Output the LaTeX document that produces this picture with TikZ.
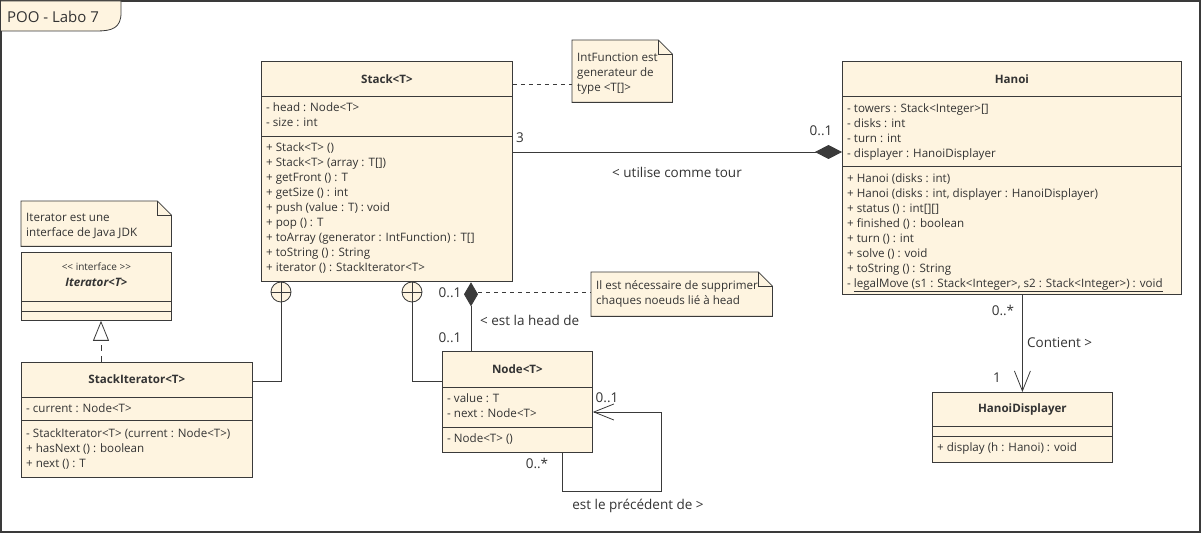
\documentclass[tikz,border=0pt]{standalone}
\usepackage{fontspec}
\setmainfont{Open Sans}
\usetikzlibrary{arrows.meta}
\definecolor{umlfill}{HTML}{FEF4E0}
\definecolor{umlline}{HTML}{3A3A3A}
\definecolor{umltext}{HTML}{333333}

\begin{document}
\begin{tikzpicture}[
    x=1pt, y=-1pt,
    font=\fontsize{11.6}{15}\selectfont,
    classbox/.style={draw=umlline, fill=umlfill, line width=0.8pt, anchor=north west, inner sep=0pt},
    sep/.style={draw=umlline, line width=0.8pt},
    title/.style={text=umltext, font=\fontsize{11.6}{15}\selectfont\bfseries, inner sep=0pt},
    members/.style={text=umltext, align=left, inner sep=0pt, anchor=north west},
    notebox/.style={anchor=north west, inner sep=0pt},
    notedraw/.style={draw=umlline, fill=umlfill, line width=0.8pt},
    assoc/.style={draw=umlline, line width=0.8pt},
    notelink/.style={draw=umlline, line width=0.8pt, dash pattern=on 4pt off 4pt},
    realize/.style={draw=umlline, line width=0.8pt, dash pattern=on 6pt off 5pt},
    nest/.style={circle, draw=umlline, fill=umlfill, line width=0.8pt, minimum size=20pt, inner sep=0pt,
        path picture={\draw[umlline, line width=0.8pt] (path picture bounding box.north) -- (path picture bounding box.south)
            (path picture bounding box.west) -- (path picture bounding box.east);}},
    lbl/.style={text=umltext, inner sep=0pt, font=\fontsize{13.5}{15}\selectfont}
]
\useasboundingbox (0,0) rectangle (1202,534);

% --- Frame ---
\draw[umlline, line width=1.2pt] (1,1) rectangle (1200,532);
\draw[umlline, fill=umlfill, line width=0.8pt] (1,1) -- (121,1) -- (121,13)
    .. controls (121,28) and (112,31) .. (97,31) -- (1,31);
\node[lbl, font=\fontsize{15}{17}\selectfont] (frametitle) at (53,17) {POO - Labo 7};

% --- Stack<T> ---
\node[classbox, minimum width=251pt, minimum height=220pt] (stack) at (261,61.5) {};
\draw[sep] ([yshift=-35pt]stack.north west) -- ([yshift=-35pt]stack.north east);
\draw[sep] ([yshift=-74.5pt]stack.north west) -- ([yshift=-74.5pt]stack.north east);
\node[title] (stacktitle) at ([yshift=-17.5pt]stack.north) {Stack<T>};
\node[members] (stackattr) at ([xshift=5pt, yshift=-41pt]stack.north west) {- head : Node<T>\\- size : int};
\node[members] (stackops) at ([xshift=5pt, yshift=-81pt]stack.north west)
    {+ Stack<T> ()\\+ Stack<T> (array : T[])\\+ getFront () : T\\+ getSize () : int\\
     + push (value : T) : void\\+ pop () : T\\+ toArray (generator : IntFunction) : T[]\\
     + toString () : String\\+ iterator () : StackIterator<T>};

% --- Note IntFunction ---
\node[notebox, minimum width=100pt, minimum height=62pt] (noteint) at (572,40) {};
\draw[notedraw] (noteint.north west) -- ([xshift=-14pt]noteint.north east) -- ([yshift=-14pt]noteint.north east)
    -- (noteint.south east) -- (noteint.south west) -- cycle;
\draw[sep] ([xshift=-14pt]noteint.north east) |- ([yshift=-14pt]noteint.north east);
\node[members] (noteinttext) at ([xshift=5pt, yshift=-12.5pt]noteint.north west) {IntFunction est\\generateur de\\type <T[]>};
\coordinate (stacknote) at (stack.east |- 0,84);
\draw[notelink] (stacknote) -- (noteint.west |- stacknote);

% --- Hanoi ---
\node[classbox, minimum width=339pt, minimum height=232.5pt] (hanoi) at (842,61.5) {};
\draw[sep] ([yshift=-35pt]hanoi.north west) -- ([yshift=-35pt]hanoi.north east);
\draw[sep] ([yshift=-104.5pt]hanoi.north west) -- ([yshift=-104.5pt]hanoi.north east);
\node[title] (hanoititle) at ([yshift=-17.5pt]hanoi.north) {Hanoi};
\node[members] (hanoiattr) at ([xshift=5pt, yshift=-42pt]hanoi.north west)
    {- towers : Stack<Integer>[]\\- disks : int\\- turn : int\\- displayer : HanoiDisplayer};
\node[members] (hanoiops) at ([xshift=5pt, yshift=-112pt]hanoi.north west)
    {+ Hanoi (disks : int)\\+ Hanoi (disks : int, displayer : HanoiDisplayer)\\+ status () : int[][]\\
     + finished () : boolean\\+ turn () : int\\+ solve () : void\\+ toString () : String\\
     - \underline{legalMove (s1 : Stack<Integer>, s2 : Stack<Integer>) : void}};

% --- HanoiDisplayer ---
\node[classbox, minimum width=180pt, minimum height=70pt] (displayer) at (932,392) {};
\draw[sep] ([yshift=-34pt]displayer.north west) -- ([yshift=-34pt]displayer.north east);
\draw[sep] ([yshift=-44pt]displayer.north west) -- ([yshift=-44pt]displayer.north east);
\node[title] (displayertitle) at ([yshift=-17pt]displayer.north) {HanoiDisplayer};
\node[members] (displayerops) at ([xshift=5pt, yshift=-50.5pt]displayer.north west) {+ display (h : Hanoi) : void};

% --- Note Iterator ---
\node[notebox, minimum width=150pt, minimum height=45pt] (noteitr) at (21,201) {};
\draw[notedraw] (noteitr.north west) -- ([xshift=-14pt]noteitr.north east) -- ([yshift=-14pt]noteitr.north east)
    -- (noteitr.south east) -- (noteitr.south west) -- cycle;
\draw[sep] ([xshift=-14pt]noteitr.north east) |- ([yshift=-14pt]noteitr.north east);
\node[members] (noteitrtext) at ([xshift=5pt, yshift=-12.5pt]noteitr.north west) {Iterator est une\\interface de Java JDK};

% --- Iterator<T> ---
\node[classbox, minimum width=150pt, minimum height=68pt] (iterator) at (21,252) {};
\draw[sep] ([yshift=-49pt]iterator.north west) -- ([yshift=-49pt]iterator.north east);
\draw[sep] ([yshift=-59pt]iterator.north west) -- ([yshift=-59pt]iterator.north east);
\node[text=umltext, inner sep=0pt, font=\fontsize{10}{12}\selectfont] (iteratorstereo) at ([yshift=-15pt]iterator.north) {<\kern0pt< interface >\kern0pt>};
\node[title, font=\fontsize{11.6}{15}\selectfont\bfseries\itshape] (iteratortitle) at ([yshift=-30pt]iterator.north) {Iterator<T>};

% --- StackIterator<T> ---
\node[classbox, minimum width=231pt, minimum height=115pt] (stackitr) at (21,362) {};
\draw[sep] ([yshift=-35pt]stackitr.north west) -- ([yshift=-35pt]stackitr.north east);
\draw[sep] ([yshift=-58pt]stackitr.north west) -- ([yshift=-58pt]stackitr.north east);
\node[title] (stackitrtitle) at ([yshift=-17.5pt]stackitr.north) {StackIterator<T>};
\node[members] (stackitrattr) at ([xshift=5pt, yshift=-41.5pt]stackitr.north west) {- current : Node<T>};
\node[members] (stackitrops) at ([xshift=5pt, yshift=-66.5pt]stackitr.north west)
    {- StackIterator<T> (current : Node<T>)\\+ hasNext () : boolean\\+ next () : T};

% --- Node<T> ---
\node[classbox, minimum width=150pt, minimum height=101pt] (nodecls) at (442,351) {};
\draw[sep] ([yshift=-36pt]nodecls.north west) -- ([yshift=-36pt]nodecls.north east);
\draw[sep] ([yshift=-76pt]nodecls.north west) -- ([yshift=-76pt]nodecls.north east);
\node[title] (nodetitle) at ([yshift=-18pt]nodecls.north) {Node<T>};
\node[members] (nodeattr) at ([xshift=5pt, yshift=-42.5pt]nodecls.north west) {- value : T\\- next : Node<T>};
\node[members] (nodeops) at ([xshift=5pt, yshift=-82.5pt]nodecls.north west) {- Node<T> ()};

% --- Note head ---
\node[notebox, minimum width=181pt, minimum height=44pt] (notehead) at (591,272) {};
\draw[notedraw] (notehead.north west) -- ([xshift=-14pt]notehead.north east) -- ([yshift=-14pt]notehead.north east)
    -- (notehead.south east) -- (notehead.south west) -- cycle;
\draw[sep] ([xshift=-14pt]notehead.north east) |- ([yshift=-14pt]notehead.north east);
\node[members] (noteheadtext) at ([xshift=5pt, yshift=-8.5pt]notehead.north west) {Il est nécessaire de supprimer\\chaques noeuds lié à head};

% --- Connectors ---
% Stack <>-- Hanoi
\coordinate (stackright) at (stack.east |- 0,152);
\draw[assoc, -{Diamond[length=27pt, width=14pt]}] (stackright) -- (hanoi.west |- stackright);
\node[lbl] (multthree) at (520,138) {3};
\node[lbl] (multhanoi) at (821,131) {0..1};
\node[lbl] (lbltour) at (677,172) {< utilise comme tour};

% Hanoi --> HanoiDisplayer
\draw[assoc, -{Straight Barb[length=20pt, width=16pt]}] (hanoi.south -| displayer.north) -- (displayer.north);
\node[lbl] (multdisp) at (1003,310) {0..*};
\node[lbl, anchor=west] (lblcontient) at (1027,343) {Contient >};
\node[lbl] (multone) at (997,378) {1};

% Iterator realisation
\draw[realize, -{Triangle[open, length=20pt, width=16pt, fill=white]}] (stackitr.north -| 101,0) -- (iterator.south -| 101,0);

% nested classes
\node[nest] (nestitr) at (281,292) {};
\node[nest] (nestnode) at (412,292) {};
\draw[assoc] (stackitr.east |- 0,381) -| (nestitr.south);
\draw[assoc] (nodecls.west |- 0,381) -| (nestnode.south);

% Node head of Stack
\coordinate (headtop) at (stack.south -| 471,0);
\draw[assoc, -{Diamond[length=24pt, width=14pt]}] (nodecls.north -| headtop) -- (headtop);
\coordinate (headdia) at (478,292);
\draw[notelink] (headdia) -- (notehead.west |- headdia);
\node[lbl] (multheadtop) at (450,293) {0..1};
\node[lbl] (multheadbot) at (450,338) {0..1};
\node[lbl, anchor=west] (lblhead) at (480,320) {< est la head de};

% Node self link
\coordinate (loopa) at (661,412);
\coordinate (loopb) at (562,491);
\draw[assoc, -{Straight Barb[length=20pt, width=16pt]}] (nodecls.south -| loopb) -- (loopb) -| (loopa) -- (nodecls.east |- loopa);
\node[lbl] (multnext) at (607,398) {0..1};
\node[lbl] (multprev) at (537,463) {0..*};
\node[lbl] (lblprev) at (638,506) {est le précédent de >};

\end{tikzpicture}
\end{document}
